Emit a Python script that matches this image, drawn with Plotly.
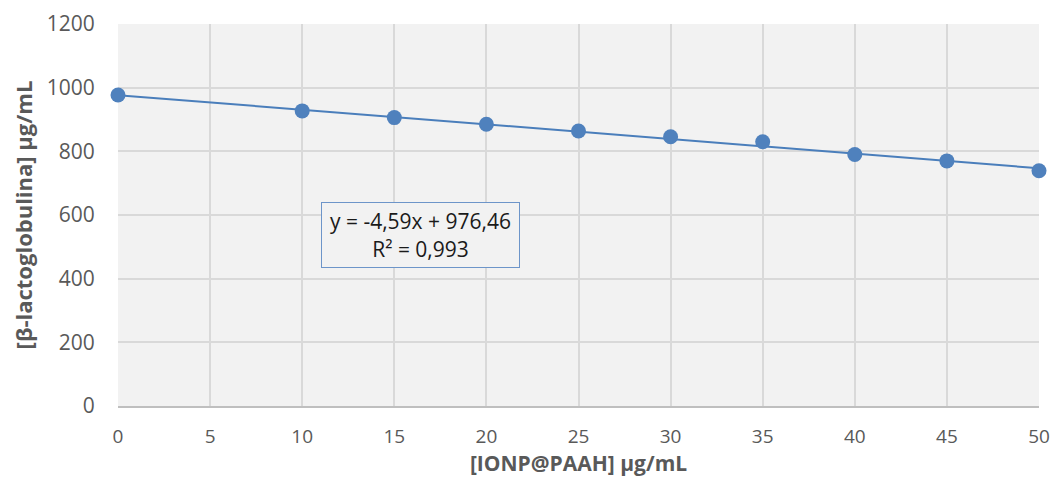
import plotly.graph_objects as go

x_vals = [0, 10, 15, 20, 25, 30, 35, 40, 45, 50]
y_vals = [977, 927, 906, 885, 864, 846, 830, 790, 770, 739]
slope = -4.59
intercept = 976.46
eq_text = "y = -4,59x + 976,46"
r2_text = "R² = 0,993"
x_ticks = [0, 5, 10, 15, 20, 25, 30, 35, 40, 45, 50]
y_ticks = [0, 200, 400, 600, 800, 1000, 1200]

font_fam = "'Open Sans', sans-serif"

trend_x = [min(x_vals), max(x_vals)]
trend_y = [slope * v + intercept for v in trend_x]

fig = go.Figure()
fig.add_trace(go.Scatter(x=trend_x, y=trend_y, mode="lines",
                         line=dict(color="#4a7ebb", width=2), showlegend=False, hoverinfo="skip"))
fig.add_trace(go.Scatter(x=x_vals, y=y_vals, mode="markers",
                         marker=dict(color="#4f81bd", size=15), showlegend=False,
                         cliponaxis=False))

fig.add_annotation(x=16.4, y=537, xref="x", yref="y",
                   text=eq_text + "<br>" + r2_text,
                   showarrow=False, align="center",
                   font=dict(family=font_fam, size=21, color="#1a1a1a"),
                   bordercolor="#6d95c9", borderwidth=1, borderpad=0,
                   width=197, height=64, bgcolor="#f2f2f2")

# page body has an 8px margin, so the figure is sized to fit and margins shifted
fig.update_layout(
    width=1042, height=471,
    margin=dict(l=110, r=11, t=16, b=73),
    paper_bgcolor="white", plot_bgcolor="#f2f2f2",
    font=dict(family=font_fam, size=20, color="#595959"),
    xaxis=dict(range=[0, 50], tickvals=x_ticks, showgrid=True, gridcolor="#d9d9d9", gridwidth=2,
               zeroline=False, showline=True, linecolor="#bfbfbf", linewidth=2,
               tickfont=dict(size=19), ticklabeloverflow="allow",
               ticks="outside", ticklen=12, tickcolor="rgba(0,0,0,0)", automargin=False,
               title=dict(text="<b>[IONP@PAAH] µg/mL</b>", font=dict(size=21, color="#595959"), standoff=8)),
    yaxis=dict(range=[0, 1200], tickvals=y_ticks, showgrid=True, gridcolor="#d9d9d9", gridwidth=2,
               zeroline=False, showline=False,
               tickfont=dict(size=21),
               ticks="outside", ticklen=18, tickcolor="rgba(0,0,0,0)", automargin=False,
               title=dict(text="<b>[β-lactoglobulina] µg/mL</b>", font=dict(size=22, color="#595959"), standoff=18)),
)

fig.write_html("out.html")
